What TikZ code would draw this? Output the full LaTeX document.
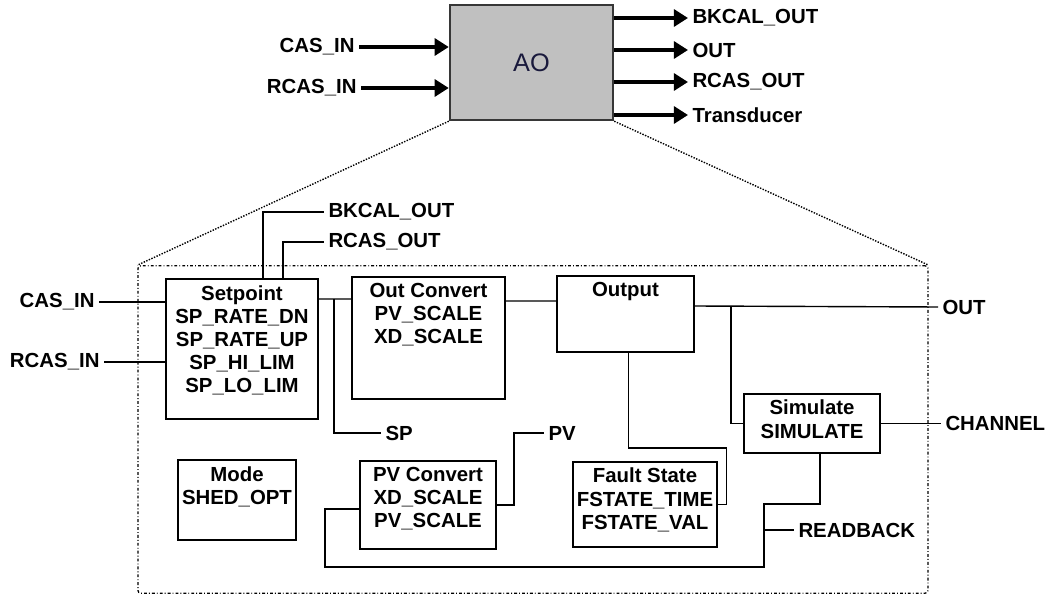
\documentclass[tikz,border=0pt]{standalone}
\usepackage{fontspec}
\setmainfont{Liberation Sans}
\usepackage{xcolor}
\usepackage{tikz}
\usetikzlibrary{positioning, arrows.meta, calc}
\definecolor{ao_fill}{RGB}{192,192,192}
\definecolor{ao_edge}{RGB}{55,55,55}
\definecolor{ao_text}{RGB}{25,25,60}
\tikzstyle{block_node}=[draw, line width=1.4pt, inner sep=0pt]
\tikzstyle{block_text}=[anchor=north, align=center, inner sep=5pt, font=\bfseries\fontsize{14.5}{16.4}\selectfont]
\tikzstyle{pin_node}=[inner sep=3pt, font=\bfseries\fontsize{14.5}{16.4}\selectfont]
\tikzstyle{wire}=[line width=1pt]
\tikzstyle{big_arrow}=[line width=2.4pt, -{Triangle[length=10pt, width=12pt]}]
\tikzstyle{zoom_line}=[line width=1pt, densely dotted]

\begin{document}
\begin{tikzpicture}[x=0.025cm, y=-0.025cm]
    \useasboundingbox (0,0) rectangle (1047,596);

    % function block
    \node[block_node, fill=ao_fill, draw=ao_edge, line width=1.6pt, minimum width=4.08cm, minimum height=2.88cm, text=ao_text, font=\fontsize{18}{20}\selectfont] at (531.5, 62.5) (ao) {AO};
    \node[pin_node, anchor=east] at (359, 47) (casT) {CAS\_IN};
    \node[pin_node, anchor=east] at (361, 88) (rcasT) {RCAS\_IN};
    \node[pin_node, anchor=west] at (688, 18) (bkT) {BKCAL\_OUT};
    \node[pin_node, anchor=west] at (688, 50) (outT) {OUT};
    \node[pin_node, anchor=west] at (688, 82) (rcoT) {RCAS\_OUT};
    \node[pin_node, anchor=west] at (688, 115) (trT) {Transducer};

    \draw[big_arrow] (casT.east) -- (casT.east -| ao.west);
    \draw[big_arrow] (rcasT.east) -- (rcasT.east -| ao.west);
    \draw[big_arrow] (bkT.west -| ao.east) -- (bkT.west);
    \draw[big_arrow] (outT.west -| ao.east) -- (outT.west);
    \draw[big_arrow] (rcoT.west -| ao.east) -- (rcoT.west);
    \draw[big_arrow] (trT.west -| ao.east) -- (trT.west);

    % inside the block
    \node[draw, line width=0.9pt, dash pattern=on 2pt off 1.5pt on 0.6pt off 1.5pt, rounded corners=2pt, minimum width=19.75cm, minimum height=8.18cm, inner sep=0pt] at (533, 429.5) (frame) {};
    \draw[zoom_line] (ao.south west) -- (frame.north west);
    \draw[zoom_line] (ao.south east) -- (frame.north east);

    \node[block_node, minimum width=3.8cm, minimum height=3.5cm, label={[block_text]north:{Setpoint\\SP\_RATE\_DN\\SP\_RATE\_UP\\SP\_HI\_LIM\\SP\_LO\_LIM}}] at (242, 349) (sp) {};
    \node[block_node, minimum width=3.83cm, minimum height=3.05cm, label={[block_text]north:{Out Convert\\PV\_SCALE\\XD\_SCALE}}] at (428.5, 338) (oc) {};
    \node[block_node, minimum width=3.43cm, minimum height=1.9cm, label={[block_text]north:{Output}}] at (625.5, 314) (op) {};
    \node[block_node, minimum width=3.4cm, minimum height=1.48cm, label={[block_text]north:{Simulate\\SIMULATE}}] at (812, 423.5) (sim) {};
    \node[block_node, minimum width=2.95cm, minimum height=2.0cm, label={[block_text]north:{Mode\\SHED\_OPT}}] at (237, 500) (md) {};
    \node[block_node, minimum width=3.4cm, minimum height=2.2cm, label={[block_text]north:{PV Convert\\XD\_SCALE\\PV\_SCALE}}] at (428, 505) (pvc) {};
    \node[block_node, minimum width=3.6cm, minimum height=2.13cm, label={[block_text]north:{Fault State\\FSTATE\_TIME\\FSTATE\_VAL}}] at (645, 504.5) (fs) {};

    \node[pin_node, anchor=east] at (99, 302) (casL) {CAS\_IN};
    \node[pin_node, anchor=east] at (104, 362) (rcasL) {RCAS\_IN};
    \node[pin_node, anchor=west] at (324, 212) (bkL) {BKCAL\_OUT};
    \node[pin_node, anchor=west] at (324, 242) (rcoL) {RCAS\_OUT};
    \node[pin_node, anchor=west] at (381, 433) (spL) {SP};
    \node[pin_node, anchor=west] at (544, 433) (pvL) {PV};
    \node[pin_node, anchor=west] at (938, 307) (outL) {OUT};
    \node[pin_node, anchor=west] at (941, 423.5) (chL) {CHANNEL};
    \node[pin_node, anchor=west] at (794, 530) (rbL) {READBACK};
    \coordinate (rbj) at (764, 530);

    \draw[wire] (casL.east) -- (casL.east -| sp.west);
    \draw[wire] (rcasL.east) -- (rcasL.east -| sp.west);
    \draw[wire] (sp.north west) ++(98,0) |- (bkL.west);
    \draw[wire] (sp.north west) ++(118,0) |- (rcoL.west);
    \draw[wire] ($(sp.north east)+(0,21)$) -- ($(oc.north west)+(0,23)$);
    \draw[wire] ($(sp.north east)+(15,21)$) |- (spL.west);
    \draw[wire] ($(oc.north east)+(0,25)$) -- ($(op.north west)+(0,26)$);
    \draw[wire] ($(op.north east)+(0,31)$) -- (outL.west);
    \draw[wire] ($(op.north east)+(36,31)$) |- (sim.west);
    \draw[wire] (sim.east) -- (chL.west);
    \draw[wire] (op.south) ++(3,0) |- ++(98,95) |- (fs.east);
    \draw[wire] (pvc.east) -| ($(pvL.west)+(-30,0)$) -- (pvL.west);
    \draw[wire] ($(pvc.west)+(0,4)$) -| ++(-34,58) -| (rbj) |- ($(sim.south)+(8,50)$) -- ($(sim.south)+(8,0)$);
    \draw[wire] (rbj) -- (rbL.west);
\end{tikzpicture}
\end{document}
